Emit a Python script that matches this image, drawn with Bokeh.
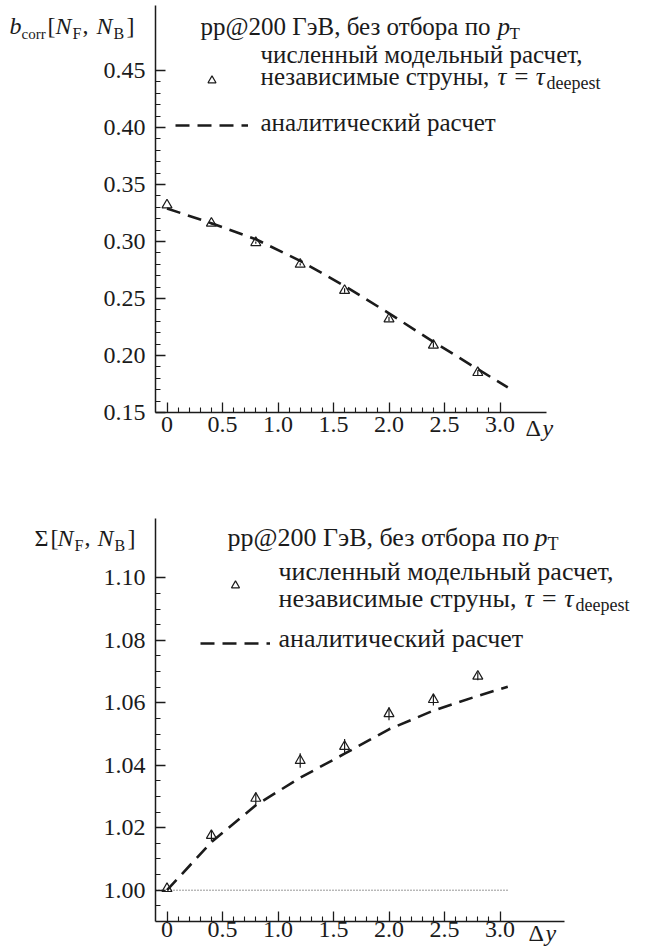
from bokeh.plotting import figure
from bokeh.models import (Range1d, FixedTicker, CustomJSTickFormatter, Label,
                          Legend, LegendItem, ColumnDataSource)
from bokeh.layouts import column
from bokeh.embed import file_html
from bokeh.resources import INLINE

FONT = "Liberation Serif"
INK = "#1b1b1b"

# ---------------- data ----------------
dy_model = [0.0, 0.4, 0.8, 1.2, 1.6, 2.0, 2.4, 2.8]
bcorr_model = [0.332, 0.316, 0.299, 0.280, 0.257, 0.232, 0.209, 0.185]
bcorr_model_err = [0.0, 0.001, 0.001, 0.001, 0.002, 0.002, 0.002, 0.002]
sigma_model = [1.0005, 1.0175, 1.0294, 1.0415, 1.0460, 1.0565, 1.0610, 1.0685]
sigma_model_err = [0.0, 0.0018, 0.0019, 0.0023, 0.0024, 0.0021, 0.0019, 0.0013]

dy_analytic = [0.0, 0.4, 0.8, 1.2, 1.6, 2.0, 2.4, 2.8, 3.07]
bcorr_analytic = [0.329, 0.316, 0.302, 0.283, 0.261, 0.237, 0.212, 0.188, 0.172]
sigma_analytic = [1.000, 1.0154, 1.0272, 1.0360, 1.0437, 1.0515, 1.0575, 1.0622, 1.0651]
sigma_unity = 1.0

dy_ticks = [0.0, 0.5, 1.0, 1.5, 2.0, 2.5, 3.0]
dy_tick_labels = ["0", "0.5", "1.0", "1.5", "2.0", "2.5", "3.0"]
bcorr_ticks = [0.15, 0.20, 0.25, 0.30, 0.35, 0.40, 0.45]
bcorr_tick_labels = ["0.15", "0.20", "0.25", "0.30", "0.35", "0.40", "0.45"]
sigma_ticks = [1.00, 1.02, 1.04, 1.06, 1.08, 1.10]
sigma_tick_labels = ["1.00", "1.02", "1.04", "1.06", "1.08", "1.10"]

dy_minor = [round(0.1 * i, 3) for i in range(1, 30) if i % 5]
bcorr_minor = [round(0.15 + 0.01 * i, 3) for i in range(1, 30) if i % 5]
sigma_minor = [round(0.995 + 0.005 * i, 4) for i in range(0, 21) if i % 4 != 1]

# ---------------- geometry (canvas pixels; page has no margin) ----------------
W = 655
TOP_H, BOT_H = 470, 481
X_ZERO_PX, PX_PER_X = 166.5, 111.0
BASELINE_FIX = 0.4   # labels render ~0.4*size below the requested baseline


class Panel:
    """maps page pixels inside one figure to its data coordinates"""
    def __init__(self, page_top, height, yref, yref_page_px, px_per_y):
        self.page_top = page_top
        self.h = height
        self.yref = yref
        self.yref_px = yref_page_px - page_top
        self.ppy = px_per_y

    def dx(self, px):
        return (px - X_ZERO_PX) / PX_PER_X

    def dy(self, page_py):
        return self.yref + (self.yref_px - (page_py - self.page_top)) / self.ppy


TOP = Panel(0, TOP_H, 0.15, 412.0, 1140.0)
BOT = Panel(TOP_H, BOT_H, 1.00, 889.7, 3124.0)


def tick_fmt(tvals, tlabels):
    return CustomJSTickFormatter(args=dict(tvals=tvals, tlabels=tlabels), code="""
        for (let i = 0; i < tvals.length; i++) {
            if (Math.abs(tvals[i] - tick) < 1e-9) { return tlabels[i]; }
        }
        return "";
    """)


def make_fig(P, axis_left_px, axis_right_px, axis_top_py, axis_bottom_py, xstandoff):
    p = figure(width=W, height=P.h,
               x_range=Range1d(P.dx(0), P.dx(W)),
               y_range=Range1d(P.dy(P.page_top + P.h), P.dy(P.page_top)),
               output_backend="svg", toolbar_location=None,
               min_border_left=0, min_border_right=0,
               min_border_top=0, min_border_bottom=0)
    p.xgrid.visible = False
    p.ygrid.visible = False
    p.outline_line_color = None
    p.background_fill_color = "white"
    p.border_fill_color = "white"
    xa, ya = p.xaxis[0], p.yaxis[0]
    x_lo, x_hi = P.dx(axis_left_px), P.dx(axis_right_px)
    y_lo, y_hi = P.dy(axis_bottom_py), P.dy(axis_top_py)
    xa.fixed_location = y_lo
    xa.bounds = (x_lo, x_hi)
    ya.fixed_location = x_lo
    ya.bounds = (y_lo, y_hi)
    for ax in (xa, ya):
        ax.axis_line_color = INK
        ax.axis_line_width = 1.5
        ax.major_tick_line_color = INK
        ax.major_tick_line_width = 1.3
        ax.minor_tick_line_color = INK
        ax.minor_tick_line_width = 1.1
        ax.major_tick_in = 10
        ax.major_tick_out = 0
        ax.minor_tick_in = 5
        ax.minor_tick_out = 0
        ax.major_label_text_font = FONT
        ax.major_label_text_font_size = "24px"
        ax.major_label_text_color = INK
    ya.major_label_standoff = 10
    xa.major_label_standoff = xstandoff
    xa.ticker = FixedTicker(ticks=dy_ticks, minor_ticks=dy_minor)
    xa.formatter = tick_fmt(dy_ticks, dy_tick_labels)
    return p


def add_texts(p, P, items):
    for text, px, py, size, style in items:
        p.add_layout(Label(x=P.dx(px), y=P.dy(py - BASELINE_FIX * size), text=text,
                           text_font=FONT, text_font_size=f"{size}px",
                           text_font_style=style, text_color=INK,
                           text_align="left", text_baseline="alphabetic"))


def add_series(p, yvals, yerr, yana):
    ana = p.line(dy_analytic, yana, line_color=INK, line_width=2.6, line_dash="14 8")
    src = ColumnDataSource(dict(
        x=dy_model, y=yvals,
        lo=[v - e for v, e in zip(yvals, yerr)],
        hi=[v + e for v, e in zip(yvals, yerr)]))
    p.segment(x0="x", y0="lo", x1="x", y1="hi", source=src, line_color=INK, line_width=1.2)
    tri = p.scatter("x", "y", source=src, marker="triangle", size=10,
                    fill_color=None, line_color=INK, line_width=1.2)
    return tri, ana


def add_legend(p, P, tri, ana, left_px, tri_py, dash_py, glyph_w):
    gh = 20
    spacing = int(round(dash_py - tri_py - gh))
    bottom_page = tri_py - gh / 2 + 2 * gh + spacing
    leg = Legend(items=[LegendItem(label=" ", renderers=[tri]),
                        LegendItem(label=" ", renderers=[ana])],
                 location=(left_px, P.page_top + P.h - bottom_page),
                 orientation="vertical", glyph_width=glyph_w, glyph_height=gh,
                 label_height=gh, label_width=0, label_standoff=0,
                 spacing=spacing, padding=0, margin=0,
                 border_line_color=None, background_fill_alpha=0,
                 label_text_font_size="1px")
    p.add_layout(leg)


# ---------------- top panel: b_corr ----------------
top = make_fig(TOP, 155, 546, 5, 412, 4)
top.yaxis[0].ticker = FixedTicker(ticks=bcorr_ticks, minor_ticks=bcorr_minor)
top.yaxis[0].formatter = tick_fmt(bcorr_ticks, bcorr_tick_labels)
tri_t, ana_t = add_series(top, bcorr_model, bcorr_model_err, bcorr_analytic)
add_legend(top, TOP, tri_t, ana_t, 175, 80, 125, 73)
add_texts(top, TOP, [
    ("b", 9, 35, 24, "italic"),
    ("corr", 21, 39, 15, "normal"),
    ("[", 47, 35, 24, "normal"),
    ("N", 55, 35, 24, "italic"),
    ("F", 72, 39, 16, "normal"),
    (",", 82, 35, 24, "normal"),
    ("N", 96, 35, 24, "italic"),
    ("B", 113, 39, 16, "normal"),
    ("]", 126, 35, 24, "normal"),
    ("pp@200 ГэВ, без отбора по", 200, 36, 25, "normal"),
    ("p", 497, 36, 25, "italic"),
    ("T", 509, 40, 17, "normal"),
    ("численный модельный расчет,", 260, 64, 25, "normal"),
    ("независимые струны,", 260, 86, 25, "normal"),
    ("τ = τ", 497, 86, 25, "italic"),
    ("deepest", 546, 90, 18, "normal"),
    ("аналитический расчет", 260, 132, 25, "normal"),
    ("Δ", 525, 437, 24, "normal"),
    ("y", 542, 437, 24, "italic"),
])

# ---------------- bottom panel: Sigma ----------------
bot = make_fig(BOT, 155, 564, 518, 921, 0)
bot.yaxis[0].ticker = FixedTicker(ticks=sigma_ticks, minor_ticks=sigma_minor)
bot.yaxis[0].formatter = tick_fmt(sigma_ticks, sigma_tick_labels)
bot.line([BOT.dx(155), dy_analytic[-1]], [sigma_unity, sigma_unity],
         line_color="#333333", line_width=1, line_dash="1 2")
tri_b, ana_b = add_series(bot, sigma_model, sigma_model_err, sigma_analytic)
add_legend(bot, BOT, tri_b, ana_b, 200, 585, 643, 70)
add_texts(bot, BOT, [
    ("Σ", 34, 547, 24, "normal"),
    ("[", 50, 547, 24, "normal"),
    ("N", 57, 547, 24, "italic"),
    ("F", 74, 551, 16, "normal"),
    (",", 84, 547, 24, "normal"),
    ("N", 97, 547, 24, "italic"),
    ("B", 114, 551, 16, "normal"),
    ("]", 127, 547, 24, "normal"),
    ("pp@200 ГэВ, без отбора по", 227, 547, 26, "normal"),
    ("p", 534, 547, 26, "italic"),
    ("T", 547, 551, 18, "normal"),
    ("численный модельный расчет,", 278, 581, 26, "normal"),
    ("независимые струны,", 278, 608, 26, "normal"),
    ("τ = τ", 524, 608, 26, "italic"),
    ("deepest", 575, 612, 18, "normal"),
    ("аналитический расчет", 278, 648, 26, "normal"),
    ("Δ", 528, 942, 24, "normal"),
    ("y", 545, 942, 24, "italic"),
])

layout = column(top, bot, spacing=0)
open("out.html", "w").write(file_html(layout, INLINE))
